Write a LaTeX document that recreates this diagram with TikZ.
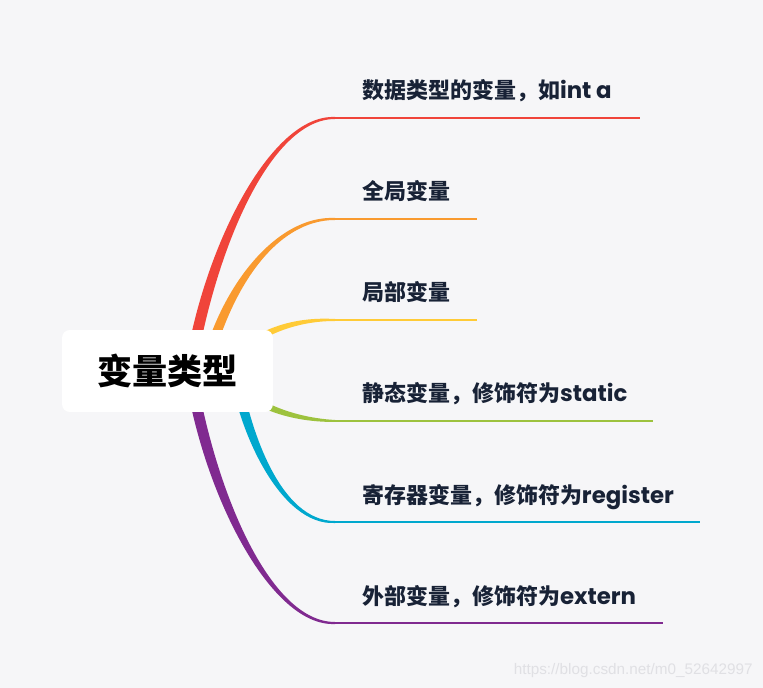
\documentclass[tikz,border=0pt]{standalone}
\usepackage{fontspec}
\newfontfamily\cjk{Noto Sans CJK SC}
\newfontfamily\lat{Poppins}
\newfontfamily\wm{Liberation Sans}
\usetikzlibrary{calc,positioning}
\definecolor{fond}{RGB}{246,246,248}
\definecolor{texte}{RGB}{24,34,54}
\definecolor{filigrane}{RGB}{224,224,228}
\definecolor{brRouge}{RGB}{240,68,58}
\definecolor{brOrange}{RGB}{249,154,47}
\definecolor{brJaune}{RGB}{255,203,55}
\definecolor{brVert}{RGB}{157,194,62}
\definecolor{brCyan}{RGB}{0,168,206}
\definecolor{brViolet}{RGB}{128,42,144}
\pgfdeclarelayer{fondcouche}
\pgfdeclarelayer{branches}
\pgfsetlayers{fondcouche,branches,main}

\begin{document}
\begin{tikzpicture}[x=0.02cm,y=-0.02cm,
  racine/.style={rectangle,rounded corners=4.5pt,minimum width=4.22cm,minimum height=1.64cm,
                 fill=white,text=black,font=\cjk\bfseries\fontsize{20}{24}\selectfont},
  feuille/.style={inner sep=0pt,anchor=base west,text=texte,
                  font=\cjk\bfseries\fontsize{12.5}{15}\selectfont},
  trait/.style={line width=0.04cm}]

  \begin{pgfonlayer}{fondcouche}
    \fill[fond] (0,0) rectangle (763,688);
  \end{pgfonlayer}
  \useasboundingbox (0,0) rectangle (763,688);

  \node[racine] (racine) at (167.5,371) {变量类型};

  % debut et fin des traits
  \coordinate (k1) at (335,118);  \coordinate (k1e) at (640,118);
  \coordinate (k2) at (335,219);  \coordinate (k2e) at (477,219);
  \coordinate (k3) at (335,320);  \coordinate (k3e) at (477,320);
  \coordinate (k4) at (335,421);  \coordinate (k4e) at (653,421);
  \coordinate (k5) at (335,522);  \coordinate (k5e) at (700,522);
  \coordinate (k6) at (335,623);  \coordinate (k6e) at (663,623);

  \node[feuille] (f1) at ($(k1)+(27,-19)$) {数据类型的变量，如{\lat\bfseries\fontsize{13}{15}\selectfont int a}};
  \node[feuille] (f2) at ($(k2)+(27,-19)$) {全局变量};
  \node[feuille] (f3) at ($(k3)+(27,-19)$) {局部变量};
  \node[feuille] (f4) at ($(k4)+(27,-19)$) {静态变量，修饰符为{\lat\bfseries\fontsize{13}{15}\selectfont static}};
  \node[feuille] (f5) at ($(k5)+(27,-19)$) {寄存器变量，修饰符为{\lat\bfseries\fontsize{13}{15}\selectfont register}};
  \node[feuille] (f6) at ($(k6)+(27,-19)$) {外部变量，修饰符为{\lat\bfseries\fontsize{13}{15}\selectfont extern}};

  \draw[trait,brRouge]  (k1) -- (k1e);
  \draw[trait,brOrange] (k2) -- (k2e);
  \draw[trait,brJaune]  (k3) -- (k3e);
  \draw[trait,brVert]   (k4) -- (k4e);
  \draw[trait,brCyan]   (k5) -- (k5e);
  \draw[trait,brViolet] (k6) -- (k6e);

  % branches effilees
  \begin{pgfonlayer}{branches}
    \foreach \k/\col/\sx/\ax/\ay/\bx/\by/\hx/\hy/\ey in {
        1/brRouge/22.5/210/250/270/118/-5.5/0/-1,
        2/brOrange/37.5/225/290/275/219/-5/0/-1,
        3/brJaune/52.5/245/340/285/320/0/-4/-1,
        4/brVert/52.5/245/402/285/421/0/-4/-1,
        5/brCyan/67.5/245/430/280/522/-5/0/1,
        6/brViolet/22.5/210/492/270/623/-5.5/0/1}
      \fill[\col] ($(racine.center)+(\sx,0)+(\hx,\hy)$)
          .. controls ($(\ax,\ay)+1.4*(\hx,\hy)$) and ($(\bx,\by)+(0,4*\ey)$) .. ($(k\k)+(0,\ey)$)
          -- ($(k\k)-(0,\ey)$)
          .. controls ($(\bx,\by)-(0,\ey)$) and ($(\ax,\ay)-(\hx,\hy)$) .. ($(racine.center)+(\sx,0)-(\hx,\hy)$)
          -- cycle;
  \end{pgfonlayer}

  \node[anchor=base east,inner sep=0pt,text=filigrane,font=\wm\fontsize{8.7}{10}\selectfont]
    (fil) at (753,674) {https://blog.csdn.net/m0\_52642997};
\end{tikzpicture}
\end{document}
